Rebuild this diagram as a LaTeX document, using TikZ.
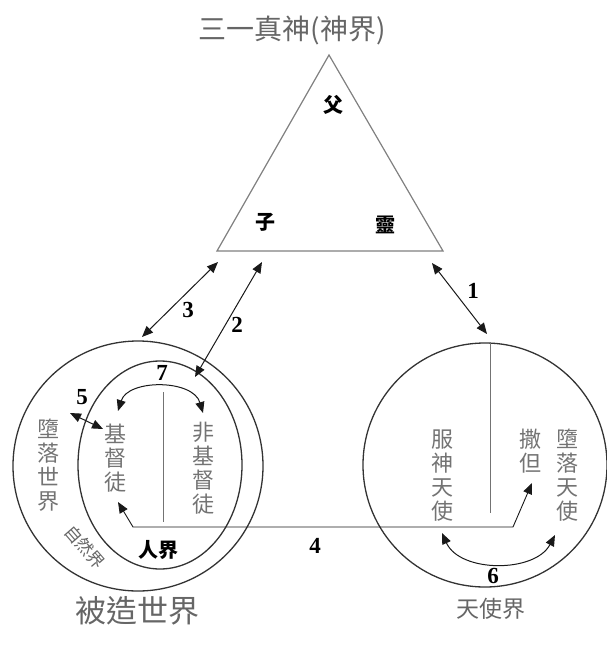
\documentclass[tikz,border=0pt]{standalone}
\usepackage{fontspec}
\setmainfont{Liberation Serif}
\newfontfamily\cjk{Noto Sans CJK TC}
\usetikzlibrary{arrows.meta,shapes.geometric}
\begin{document}
\begin{tikzpicture}[x=1pt,y=-1pt,
  ring/.style={draw=black!80, line width=1.3pt},
  tri/.style={draw=black!50, line width=1.2pt},
  thinline/.style={draw=black!55, line width=0.9pt},
  dbl/.style={draw=black!90, line width=1pt, {Triangle[length=11pt,width=9pt]}-{Triangle[length=11pt,width=9pt]}},
  num/.style={font=\fontsize{23}{23}\selectfont\bfseries, inner sep=0},
  vtext/.style={font=\cjk\fontsize{22}{24}\selectfont, text=black!55, align=center, inner sep=0},
  btext/.style={font=\cjk\fontsize{20}{20}\selectfont\bfseries, text=black, inner sep=0},
  gtext/.style={font=\cjk, text=black!60, inner sep=0},
]
\useasboundingbox (0,0) rectangle (607,646);
% title
\node[gtext, font=\cjk\fontsize{28}{28}\selectfont] (title) at (292,30) {三一真神(神界)};
% triangle
\coordinate (tA) at (329,55);
\coordinate (tL) at (217,251);
\coordinate (tR) at (443,251);
\draw[tri] (tA) -- (tL) -- (tR) -- cycle;
\node[btext] (fu) at (333,105) {父};
\node[btext] (zi) at (265,222) {子};
\node[btext] (ling) at (385,225) {靈};
% circles
\node[ring, circle, minimum size=250pt, inner sep=0] (L) at (138,466) {};
\node[ring, ellipse, minimum width=164pt, minimum height=208pt, inner sep=0] (I) at (160,465) {};
\node[ring, circle, minimum size=244pt, inner sep=0] (R) at (485,465) {};
% inner vertical lines
\coordinate (lv1) at (163,392);
\coordinate (lv2) at (163,522);
\draw[thinline] (lv1) -- (lv2);
\coordinate (rv1) at (490,342);
\coordinate (rv2) at (490,513);
\draw[thinline] (rv1) -- (rv2);
% texts left
\node[vtext] (fallw) at (48,465) {墮\\落\\世\\界};
\node[vtext] (chr) at (115,458) {基\\督\\徒};
\node[vtext] (nchr) at (203,468) {非\\基\\督\\徒};
\node[btext] (ren) at (158,550) {人界};
\node[gtext, font=\cjk\fontsize{17}{17}\selectfont, rotate=-49] (ziran) at (85,547) {自然界};
% texts right
\node[vtext] (fushen) at (442,476) {服\\神\\天\\使};
\node[vtext] (satan) at (530,451) {撒\\但};
\node[vtext] (fallang) at (567,475) {墮\\落\\天\\使};
% bottom labels
\node[gtext, font=\cjk\fontsize{31}{31}\selectfont] (bz) at (137,611) {被造世界};
\node[gtext, font=\cjk\fontsize{23}{23}\selectfont] (tsj) at (491,609) {天使界};
% arrow 1
\coordinate (a1s) at (432,263);
\coordinate (a1e) at (487,334);
\draw[dbl] (a1s) -- (a1e);
\node[num] (n1) at (473,291) {1};
% arrow 2
\coordinate (a2s) at (262,262);
\coordinate (a2e) at (195,377);
\draw[dbl] (a2s) -- (a2e);
\node[num] (n2) at (237,325) {2};
% arrow 3
\coordinate (a3s) at (218,262);
\coordinate (a3e) at (142,337);
\draw[dbl] (a3s) -- (a3e);
\node[num] (n3) at (188,310) {3};
% arrow 4
\coordinate (a4s) at (118,502);
\coordinate (a4b) at (133,527);
\coordinate (a4c) at (513,527);
\coordinate (a4e) at (532,483);
\draw[dbl, line width=0.9pt] (a4s) -- (a4b) -- (a4c) -- (a4e);
\node[num] (n4) at (315,546) {4};
% arrow 5
\coordinate (a5s) at (70,413);
\coordinate (a5e) at (103,429);
\draw[dbl] (a5s) -- (a5e);
\node[num] (n5) at (82,397) {5};
% arrow 6
\coordinate (a6s) at (442,533);
\coordinate (a6e) at (555,535);
\draw[dbl] (a6s) .. controls (460,573) and (535,573) .. (a6e);
\node[num] (n6) at (493,576) {6};
% arrow 7
\coordinate (a7s) at (118,411);
\coordinate (a7e) at (203,413);
\draw[dbl] (a7s) .. controls (128,379) and (193,379) .. (a7e);
\node[num] (n7) at (162,373) {7};
\end{tikzpicture}
\end{document}
